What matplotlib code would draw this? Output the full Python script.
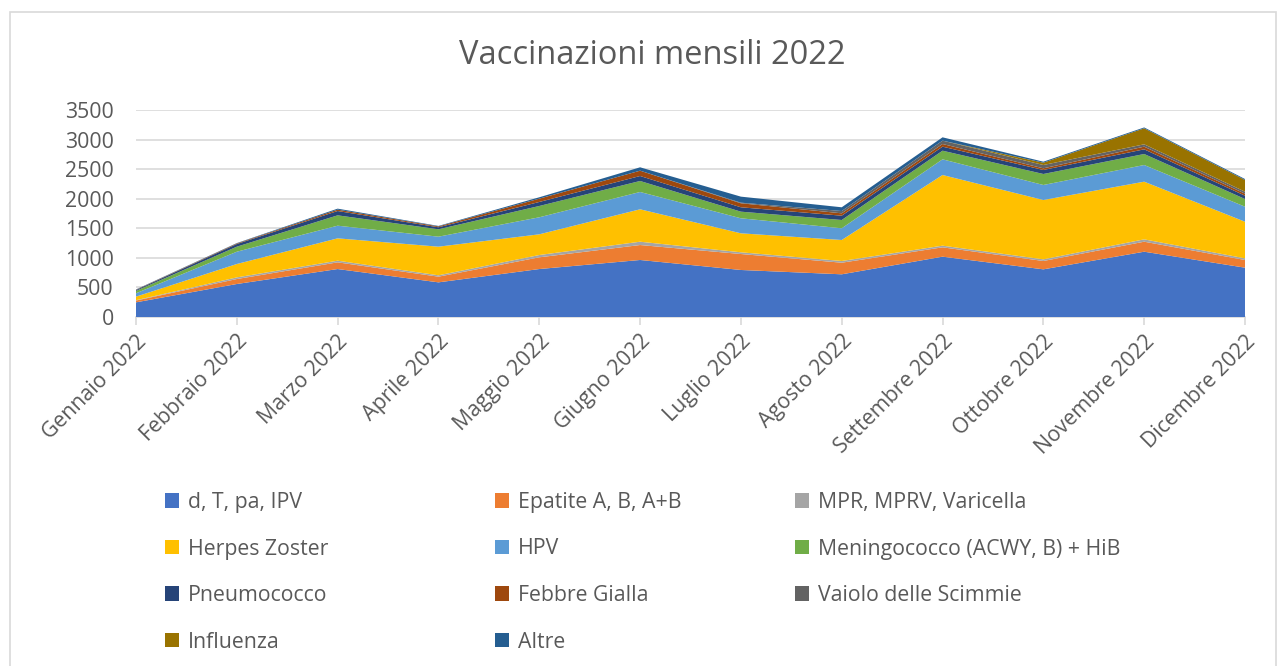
import matplotlib
matplotlib.use("Agg")
import matplotlib.pyplot as plt
from matplotlib.patches import Rectangle, Patch

plt.rcParams['font.family'] = ['Open Sans', 'DejaVu Sans']

mesi = ["Gennaio 2022", "Febbraio 2022", "Marzo 2022", "Aprile 2022", "Maggio 2022",
        "Giugno 2022", "Luglio 2022", "Agosto 2022", "Settembre 2022", "Ottobre 2022",
        "Novembre 2022", "Dicembre 2022"]

dtpa_ipv = [248, 558, 811, 586, 811, 964, 795, 722, 1020, 806, 1104, 834]
epatite = [30, 84, 113, 96, 198, 253, 270, 196, 158, 141, 169, 130]
mpr = [6, 28, 28, 23, 39, 56, 29, 29, 28, 28, 40, 28]
herpes = [60, 226, 378, 484, 350, 548, 321, 355, 1195, 1003, 975, 619]
hpv = [57, 208, 214, 169, 288, 293, 254, 198, 265, 254, 282, 254]
meningococco = [40, 85, 175, 125, 191, 186, 112, 140, 146, 186, 186, 130]
pneumococco = [15, 45, 73, 34, 68, 84, 74, 73, 68, 68, 79, 56]
febbre_gialla = [5, 10, 23, 15, 56, 90, 68, 40, 45, 28, 45, 34]
vaiolo = [0, 0, 0, 0, 0, 0, 10, 39, 57, 56, 40, 34]
influenza = [0, 0, 0, 0, 0, 0, 0, 0, 0, 39, 270, 198]
altre = [5, 6, 17, 8, 23, 57, 102, 63, 56, 17, 15, 16]

serie = [dtpa_ipv, epatite, mpr, herpes, hpv, meningococco, pneumococco,
         febbre_gialla, vaiolo, influenza, altre]
etichette = ["d, T, pa, IPV", "Epatite A, B, A+B", "MPR, MPRV, Varicella",
             "Herpes Zoster", "HPV", "Meningococco (ACWY, B) + HiB",
             "Pneumococco", "Febbre Gialla", "Vaiolo delle Scimmie",
             "Influenza", "Altre"]
colori = ["#4472C4", "#ED7D31", "#A5A5A5", "#FFC000", "#5B9BD5", "#70AD47",
          "#264478", "#9E480E", "#636363", "#997300", "#255E91"]

testo = "#595959"
griglia = "#D9D9D9"

fig = plt.figure(figsize=(12.84, 6.66), dpi=100)
fig.patches.append(Rectangle((10 / 1284, -0.01), 1266 / 1284, 1 - 12 / 666 + 0.01,
                             transform=fig.transFigure, fill=False,
                             edgecolor=griglia, linewidth=1.2))

ax = fig.add_axes([136 / 1284, 1 - 317 / 666, (1245 - 136) / 1284, (317 - 110) / 666])
x = list(range(len(mesi)))
ax.stackplot(x, *serie, colors=colori, labels=etichette, linewidth=0)

ax.set_xlim(0, len(mesi) - 1)
ax.set_ylim(0, 3500)
ax.set_yticks(range(0, 3501, 500))
ax.grid(axis='y', color=griglia, linewidth=1.2)
ax.set_axisbelow(True)
for s in ['top', 'right', 'left']:
    ax.spines[s].set_visible(False)
ax.spines['bottom'].set_color(griglia)
ax.spines['bottom'].set_linewidth(1.2)
ax.spines['bottom'].set_zorder(0.5)

ax.set_xticks(x)
ax.set_xticklabels(mesi, rotation=45, ha='right', va='top', rotation_mode='anchor')
ax.tick_params(axis='x', colors=griglia, length=6, width=1.2, labelcolor=testo,
               labelsize=15.3, pad=4)
ax.tick_params(axis='y', length=0, labelcolor=testo, labelsize=15.3, pad=16)

fig.text(0.5076, 1 - 55 / 666, "Vaccinazioni mensili 2022", ha='center', va='center',
         fontsize=23.5, color=testo)

# legenda in tre colonne, riempite per righe come in Excel
colonne_x = [165, 495, 795]
for c in range(3):
    idx = list(range(c, len(serie), 3))
    handles = [Patch(facecolor=colori[i], edgecolor='none') for i in idx]
    labels = [etichette[i] for i in idx]
    leg = fig.legend(handles, labels, loc='upper left',
                     bbox_to_anchor=(colonne_x[c] / 1284, 1 - 492 / 666),
                     frameon=False, fontsize=15.3, handlelength=0.65, handleheight=0.65,
                     handletextpad=0.45, labelspacing=1.2, borderaxespad=0,
                     borderpad=0)
    for t in leg.get_texts():
        t.set_color(testo)

fig.savefig("out.png", dpi=100)
